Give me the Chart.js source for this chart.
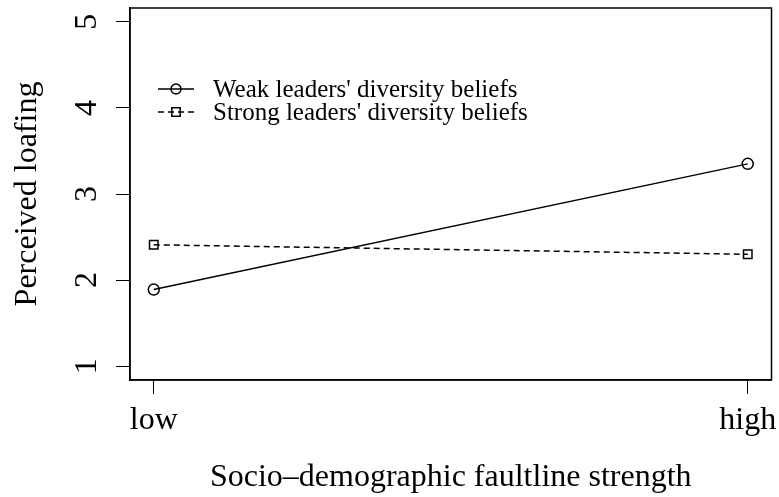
<!DOCTYPE html>
<html>
<head>
<meta charset="utf-8">
<script src="https://cdn.jsdelivr.net/npm/chart.js@4/dist/chart.umd.min.js"></script>
<style>
  html, body { margin: 0; padding: 0; background: #fff; }
  #chart { display: block; }
</style>
</head>
<body>
<canvas id="chart" width="779" height="497"></canvas>
<script>
// data
const xPositions = [1, 2];
const xLabels = ["low", "high"];
const weakBeliefs = [1.89, 3.35];
const strongBeliefs = [2.41, 2.30];
const yTicks = [1, 2, 3, 4, 5];
const seriesNames = ["Weak leaders' diversity beliefs", "Strong leaders' diversity beliefs"];

const serif = "'Liberation Serif', 'DejaVu Serif', serif";

// R-style box, rotated y tick labels and the legend
const rStyle = {
  id: "rStyle",
  afterDraw(chart) {
    const c = chart.ctx;
    const a = chart.chartArea;
    c.save();
    c.strokeStyle = "#000";
    c.lineWidth = 1.5;
    c.strokeRect(a.left, a.top, a.right - a.left, a.bottom - a.top);

    // y tick labels, parallel to the axis
    const ys = chart.scales.y;
    c.fillStyle = "#000";
    c.font = "32px " + serif;
    c.textAlign = "center";
    c.textBaseline = "alphabetic";
    ys.ticks.forEach((t) => {
      c.save();
      c.translate(a.left - 34, ys.getPixelForValue(t.value));
      c.rotate(-Math.PI / 2);
      c.fillText(String(t.value), 0, 0);
      c.restore();
    });

    // legend
    const lx = a.left + 28;
    const rows = [a.top + 81, a.top + 104];
    chart.data.datasets.forEach((ds, i) => {
      const y = rows[i];
      c.strokeStyle = "#000";
      c.lineWidth = 1.5;
      c.setLineDash(ds.borderDash || []);
      c.beginPath();
      c.moveTo(lx, y);
      c.lineTo(lx + 36, y);
      c.stroke();
      c.setLineDash([]);
      c.beginPath();
      if (ds.pointStyle === "circle") {
        c.arc(lx + 18, y, 5, 0, Math.PI * 2);
      } else {
        c.rect(lx + 18 - 4.2, y - 4.2, 8.4, 8.4);
      }
      c.stroke();
      c.font = "25px " + serif;
      c.textAlign = "left";
      c.textBaseline = "middle";
      c.fillText(ds.label, lx + 55, y + 1);
    });
    c.restore();
  },
};

const ctx = document.getElementById("chart").getContext("2d");
new Chart(ctx, {
  type: "line",
  data: {
    datasets: [
      {
        label: seriesNames[0],
        data: xPositions.map((x, i) => ({ x: x, y: weakBeliefs[i] })),
        borderColor: "#000",
        borderWidth: 1.5,
        pointStyle: "circle",
        pointRadius: 5.5,
        pointBorderWidth: 1.5,
        pointBorderColor: "#000",
        pointBackgroundColor: "rgba(0,0,0,0)",
        fill: false,
      },
      {
        label: seriesNames[1],
        data: xPositions.map((x, i) => ({ x: x, y: strongBeliefs[i] })),
        borderColor: "#000",
        borderWidth: 1.5,
        borderDash: [6, 4],
        pointStyle: "rect",
        pointRadius: 6,
        pointBorderWidth: 1.5,
        pointBorderColor: "#000",
        pointBackgroundColor: "rgba(0,0,0,0)",
        fill: false,
      },
    ],
  },
  options: {
    responsive: false,
    devicePixelRatio: 1,
    animation: false,
    layout: { padding: { top: 8, right: 5, left: 0, bottom: 0 } },
    plugins: {
      legend: { display: false },
      tooltip: { enabled: false },
    },
    scales: {
      x: {
        type: "linear",
        min: 0.96,
        max: 2.04,
        afterBuildTicks: (s) => {
          s.ticks = xPositions.map((v) => ({ value: v }));
        },
        afterFit: (s) => {
          s.height = 117;
          s.paddingLeft = 0;
          s.paddingRight = 0;
        },
        ticks: {
          autoSkip: false,
          maxRotation: 0,
          padding: 7,
          color: "#000",
          font: { family: serif, size: 32 },
          callback: (v) => xLabels[xPositions.indexOf(v)],
        },
        grid: {
          drawOnChartArea: false,
          drawTicks: true,
          tickLength: 14,
          color: "#000",
          lineWidth: 1,
        },
        border: { display: true, color: "#000", width: 1.5 },
        title: {
          display: true,
          text: "Socio–demographic faultline strength",
          color: "#000",
          font: { family: serif, size: 32, lineHeight: 1.2 },
          padding: { top: 0, bottom: 0 },
        },
      },
      y: {
        type: "linear",
        min: 0.84,
        max: 5.16,
        afterBuildTicks: (s) => {
          s.ticks = yTicks.map((v) => ({ value: v }));
        },
        afterFit: (s) => {
          s.width = 130;
          s.paddingTop = 0;
          s.paddingBottom = 0;
        },
        ticks: { display: false },
        grid: {
          drawOnChartArea: false,
          drawTicks: true,
          tickLength: 14,
          color: "#000",
          lineWidth: 1,
        },
        border: { display: true, color: "#000", width: 1.5 },
        title: {
          display: true,
          text: "Perceived loafing",
          color: "#000",
          font: { family: serif, size: 32, lineHeight: 1.2 },
          padding: { top: 8, bottom: 0 },
        },
      },
    },
  },
  plugins: [rStyle],
});
</script>
</body>
</html>
